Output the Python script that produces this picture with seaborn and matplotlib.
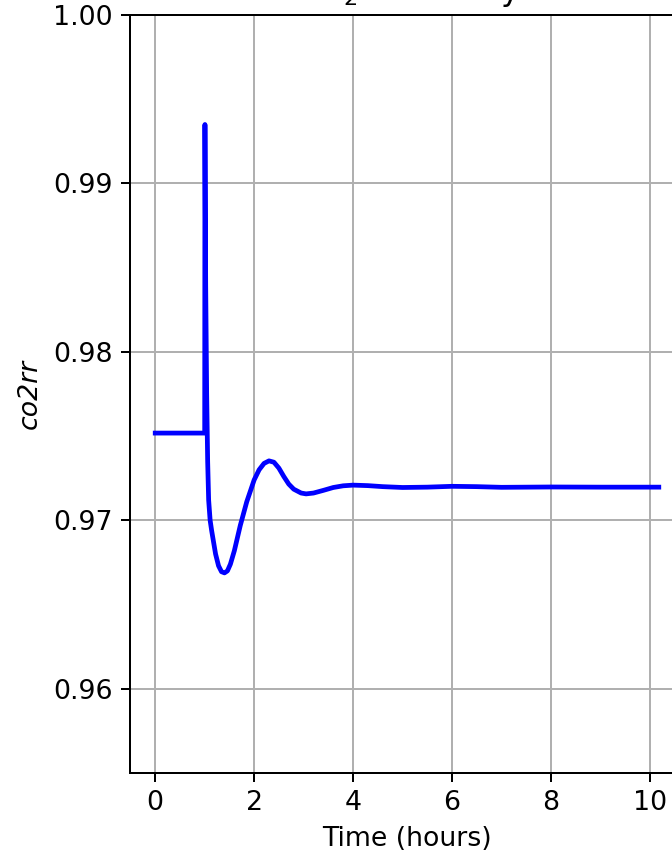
import matplotlib
matplotlib.use("Agg")
import matplotlib.pyplot as plt
import seaborn as sns
import pandas as pd

time_hours = [0.0, 0.5, 1.0, 1.005, 1.02, 1.04, 1.06, 1.08, 1.11, 1.14, 1.18, 1.22, 1.28, 1.34, 1.4,
              1.46, 1.52, 1.6, 1.72, 1.85, 2.0, 2.1, 2.2, 2.3, 2.4, 2.5, 2.6, 2.7, 2.8, 2.95,
              3.05, 3.2, 3.4, 3.6, 3.8, 4.0, 4.3, 4.6, 5.0, 5.5, 6.0, 6.5, 7.0, 8.0, 9.0, 10.18]
co2rr = [0.97518, 0.97518, 0.97518, 0.9935, 0.9840, 0.9775, 0.9735, 0.9712, 0.9700, 0.9694, 0.9687, 0.9680, 0.9673, 0.96695, 0.96688,
         0.9670, 0.9674, 0.9682, 0.9697, 0.9711, 0.9724, 0.9730, 0.97338, 0.97353, 0.97345, 0.9731, 0.9726, 0.97215, 0.97185, 0.97162,
         0.97157, 0.97162, 0.97178, 0.97195, 0.97205, 0.97209, 0.97206, 0.97200, 0.97195, 0.97197, 0.97202, 0.97200, 0.97196, 0.97198, 0.97197, 0.97197]

df = pd.DataFrame({"time": time_hours, "co2rr": co2rr})

plt.rcParams["font.size"] = 10.7

dpi = 180
fig = plt.figure(figsize=(672 / dpi, 858 / dpi), dpi=dpi)
ax = fig.add_axes([130 / 672, (858 - 773) / 858, 555 / 672, 758 / 858])

sns.lineplot(data=df, x="time", y="co2rr", ax=ax, color="blue", linewidth=1.9,
             sort=False, estimator=None)

ax.set_xlim(-0.51, 10.71)
ax.set_ylim(0.955, 1.0)
ax.set_xticks([0, 2, 4, 6, 8, 10])
ax.set_yticks([0.96, 0.97, 0.98, 0.99, 1.00])
ax.set_yticklabels(["0.96", "0.97", "0.98", "0.99", "1.00"])
ax.grid(True, color="#b0b0b0", linewidth=0.8)
ax.set_axisbelow(True)
ax.set_xlabel("Time (hours)")
ax.set_ylabel("co2rr", style="italic")
ax.set_title("CO$_2$ Recovery", fontsize=12.8)

fig.savefig("out.png", dpi=dpi)
